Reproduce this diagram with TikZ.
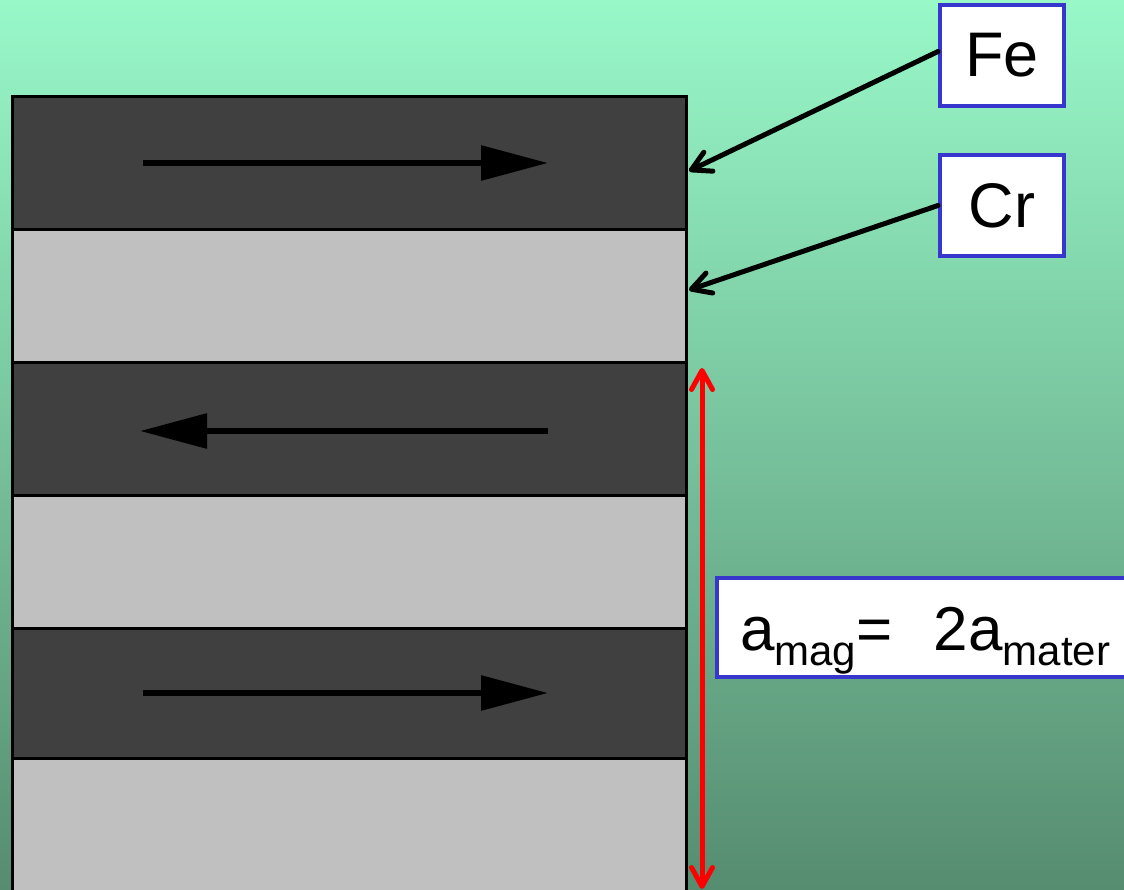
\documentclass[tikz,border=0pt]{standalone}
\usepackage{fontspec}
\setmainfont{Liberation Sans}
\usetikzlibrary{arrows.meta}
\definecolor{bgtop}{RGB}{152,248,200}
\definecolor{bgbot}{RGB}{86,140,112}
\definecolor{fedark}{RGB}{64,64,64}
\definecolor{crlight}{RGB}{192,192,192}
\definecolor{boxblue}{RGB}{55,55,205}

\begin{document}
\begin{tikzpicture}[x=1pt,y=-1pt,
  openbarb/.tip={Straight Barb[length=19pt,width=21pt,line cap=round,line join=round]},
  layer/.style={draw=black, line width=3pt, minimum width=674pt,
    anchor=north west, inner sep=0pt, outer sep=0pt},
  felayer/.style={layer, fill=fedark},
  crlayer/.style={layer, fill=crlight},
  spin/.style={line width=6pt, -{Triangle[length=67pt,width=34pt]}},
  labelbox/.style={draw=boxblue, fill=white, line width=4pt, inner sep=0pt,
    font=\fontsize{63}{63}\selectfont, minimum width=124pt, minimum height=101pt},
  pointer/.style={line width=5pt, line cap=round, -openbarb},
  periodarrow/.style={red, line width=5pt, openbarb-openbarb}
]
\clip (0,0) rectangle (1124,890);
\shade[top color=bgtop, bottom color=bgbot] (0,0) rectangle (1124,890);

% alternating Fe / Cr layers of the multilayer stack
\node[felayer, minimum height=133pt] (fe1) at (12,97) {};
\node[crlayer, minimum height=133pt] (cr1) at (12,230) {};
\node[felayer, minimum height=132pt] (fe2) at (12,363) {};
\node[crlayer, minimum height=133pt] (cr2) at (12,495) {};
\node[felayer, minimum height=130pt] (fe3) at (12,628) {};
\node[crlayer, minimum height=145pt] (cr3) at (12,758) {};

% magnetisation directions in the Fe layers
\draw[spin] (143,163) -- (548,163);
\draw[spin] (548,431) -- (140,431);
\draw[spin] (143,693) -- (548,693);

% element labels
\node[labelbox] (felabel) at (1002,55.5) {Fe};
\node[labelbox] (crlabel) at (1002,205.5) {Cr};
\coordinate (fetip) at (689,171);
\coordinate (crtip) at (689,290);
\draw[pointer] ([yshift=4pt]felabel.west) -- (fetip);
\draw[pointer] (crlabel.west) -- (crtip);

% magnetic period
\coordinate (ptop) at (702,368);
\coordinate (pbot) at (702,889);
\draw[periodarrow] (ptop) -- (pbot);

\node[labelbox, anchor=north west, minimum width=420pt, minimum height=99pt,
  text width=374pt, inner xsep=22pt, inner ysep=0pt, align=left,
  text height=60pt, text depth=15pt, font=\fontsize{62}{62}\selectfont]
  (periodlabel) at (715,576)
  {a\raisebox{-15pt}{\fontsize{42}{42}\selectfont mag}=\ \ 2a\raisebox{-15pt}{\fontsize{42}{42}\selectfont mater}};
\end{tikzpicture}
\end{document}
